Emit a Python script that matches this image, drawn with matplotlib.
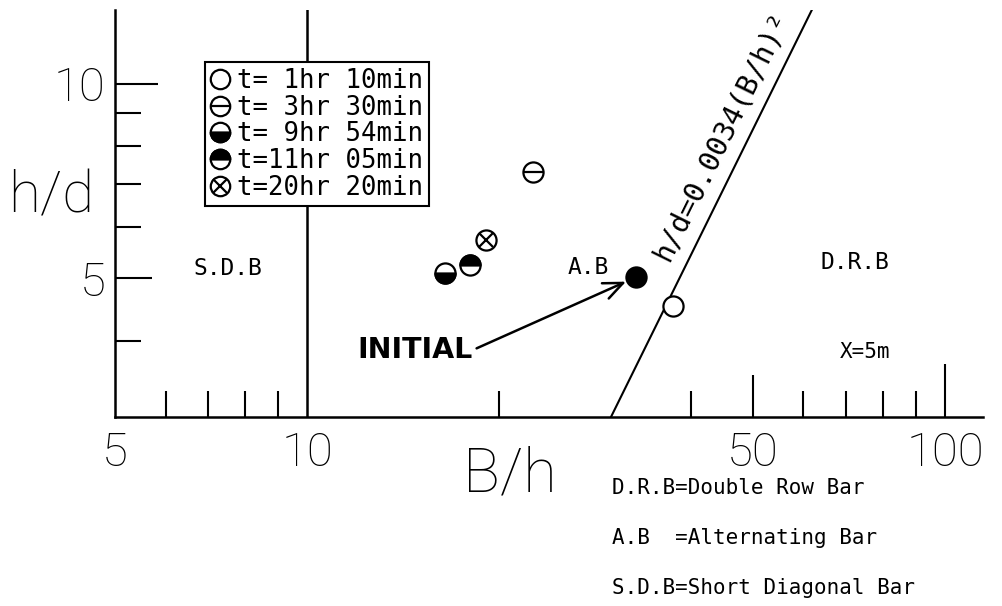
import numpy as np
import matplotlib
matplotlib.use("Agg")
import matplotlib.pyplot as plt
from matplotlib.lines import Line2D
from matplotlib.path import Path
from matplotlib.ticker import FixedLocator, NullFormatter, FixedFormatter
from matplotlib.legend_handler import HandlerTuple

# ---------------- data ----------------
series_labels = ['t= 1hr 10min', 't= 3hr 30min', 't= 9hr 54min', 't=11hr 05min', 't=20hr 20min']
series_bh = [37.5, 22.6, 16.45, 18.0, 19.1]
series_hd = [4.53, 7.29, 5.09, 5.25, 5.72]
initial_bh = [32.8]
initial_hd = [5.02]

coef = 0.0034          # h/d = coef * (B/h)^2
sdb_ab_boundary = 10   # vertical boundary B/h

x_major = [5, 10, 50, 100]
x_major_labels = ['5', '10', '50', '100']
x_minor = [6, 7, 8, 9, 20, 40, 60, 70, 80, 90]
y_major = [5, 10]
y_major_labels = ['5', '10']
y_minor = [4, 6, 7, 8, 9]

notes = ['D.R.B=Double Row Bar', 'A.B  =Alternating Bar', 'S.D.B=Short Diagonal Bar']

# ---------------- marker shapes ----------------
def half_disk(upper):
    arc = Path.arc(0, 180) if upper else Path.arc(180, 360)
    verts = np.vstack([arc.vertices, arc.vertices[:1]])
    codes = np.concatenate([arc.codes, [Path.CLOSEPOLY]])
    return Path(verts, codes)

UPPER = half_disk(True)
LOWER = half_disk(False)

# ---------------- figure ----------------
MONO = 'DejaVu Sans Mono'
BIG = dict(family='Roboto', weight='light')

fig = plt.figure(figsize=(10.03, 6.06), dpi=100)
ax = fig.add_axes([0.11466, 0.31188, 0.86540, 0.67162])
ax.set_xscale('log')
ax.set_yscale('log')
ax.set_xlim(5, 114.7)
ax.set_ylim(3.05, 13.0)

for s in ['top', 'right']:
    ax.spines[s].set_visible(False)
for s in ['left', 'bottom']:
    ax.spines[s].set_linewidth(1.8)

# boundary line
ax.axvline(sdb_ab_boundary, color='black', lw=1.8, zorder=2)

# h/d = 0.0034 (B/h)^2
bh_line = np.geomspace(np.sqrt(3.05 / coef), np.sqrt(13.0 / coef), 50)
ax.plot(bh_line, coef * bh_line ** 2, color='black', lw=1.5, zorder=2)

MS = 14.5
MEW = 1.6
LMS = 14.0
# overlay marker for each series (drawn on top of an open white circle)
overlays = [None,
            dict(marker='_', mfc='black', scale=1.0),
            dict(marker=LOWER, mfc='black', scale=1.0),
            dict(marker=UPPER, mfc='black', scale=1.0),
            dict(marker='x', mfc='black', scale=1 / 1.414)]

handles = []
for i in range(len(series_labels)):
    ax.plot([series_bh[i]], [series_hd[i]], ls='none', marker='o', mfc='white', mec='black',
            ms=MS, mew=MEW, zorder=3)
    proxy = Line2D([], [], ls='none', marker='o', mfc='white', mec='black', ms=LMS, mew=MEW)
    ov = overlays[i]
    if ov is not None:
        ax.plot([series_bh[i]], [series_hd[i]], ls='none', marker=ov['marker'], mfc=ov['mfc'],
                mec='black', ms=MS * ov['scale'], mew=MEW, zorder=4)
        proxy_ov = Line2D([], [], ls='none', marker=ov['marker'], mfc=ov['mfc'], mec='black',
                          ms=LMS * ov['scale'], mew=MEW)
        handles.append((proxy, proxy_ov))
    else:
        handles.append(proxy)

ax.plot(initial_bh, initial_hd, 'o', ms=MS, mfc='black', mec='black', mew=MEW, zorder=3)

leg = ax.legend(handles, series_labels,
                handler_map={tuple: HandlerTuple(ndivide=1)},
                loc='upper left', bbox_to_anchor=(0.1037, 0.872), borderaxespad=0,
                prop={'family': MONO, 'size': 18.5}, handlelength=0.7, handletextpad=0.33,
                labelspacing=0.03, borderpad=0.22, fancybox=False, framealpha=1,
                edgecolor='black', numpoints=1)
leg.get_frame().set_linewidth(1.5)
leg.set_zorder(6)

# ---------------- ticks ----------------
ax.xaxis.set_major_locator(FixedLocator(x_major))
ax.xaxis.set_major_formatter(FixedFormatter(x_major_labels))
ax.xaxis.set_minor_locator(FixedLocator(x_minor))
ax.xaxis.set_minor_formatter(NullFormatter())
ax.yaxis.set_major_locator(FixedLocator(y_major))
ax.yaxis.set_major_formatter(FixedFormatter(y_major_labels))
ax.yaxis.set_minor_locator(FixedLocator(y_minor))
ax.yaxis.set_minor_formatter(NullFormatter())

ax.tick_params(which='both', direction='in', width=1.5, color='black')
ax.tick_params(which='minor', length=18.7)
ax.tick_params(axis='x', which='major', pad=10, labelsize=34)
ax.tick_params(axis='y', which='major', pad=7, labelsize=34)
for lab in ax.get_xticklabels() + ax.get_yticklabels():
    lab.set_family(BIG['family'])
    lab.set_weight(BIG['weight'])

x_major_len = [0, 0, 30, 38]
for t, L in zip(ax.xaxis.get_major_ticks(), x_major_len):
    t.tick1line.set_markersize(L)
y_major_len = [26.6, 31]
for t, L in zip(ax.yaxis.get_major_ticks(), y_major_len):
    t.tick1line.set_markersize(L)

# axis labels
ax.set_ylabel('h/d', rotation=0, fontsize=42, ha='center', va='center', **BIG)
ax.yaxis.set_label_coords(-0.0737, 0.5405)
ax.set_xlabel('B/h', fontsize=44, ha='center', va='center', **BIG)
ax.xaxis.set_label_coords(0.455, -0.1425)

# ---------------- annotations ----------------
ax.text(7.52, 5.18, 'S.D.B', family=MONO, fontsize=16.5, ha='center', va='center')
ax.text(27.6, 5.20, 'A.B', family=MONO, fontsize=16.5, ha='center', va='center')
ax.text(72.3, 5.29, 'D.R.B', family=MONO, fontsize=16.5, ha='center', va='center')
ax.text(74.9, 3.85, 'X=5m', family=MONO, fontsize=15, ha='center', va='center')

ax.annotate('INITIAL', xy=(initial_bh[0], initial_hd[0]), xytext=(14.76, 3.87),
            fontsize=20.5, weight='bold', family='DejaVu Sans', ha='center', va='center',
            arrowprops=dict(arrowstyle='->,head_length=0.7,head_width=0.3', lw=1.8,
                            color='black', shrinkA=1, shrinkB=8, relpos=(1, 0.5),
                            mutation_scale=20))

# rotated label along the h/d line
p1 = ax.transData.transform((30, coef * 30 ** 2))
p2 = ax.transData.transform((60, coef * 60 ** 2))
ang = np.degrees(np.arctan2(p2[1] - p1[1], p2[0] - p1[0]))
ax.text(44.6, 8.3, 'h/d=0.0034(B/h)\u00b2', family=MONO, fontsize=20.5, rotation=ang,
        rotation_mode='anchor', ha='center', va='center')

# notes bottom right
for i, n in enumerate(notes):
    fig.text(0.610, 0.1947 - i * 0.0825, n, family=MONO, fontsize=15, ha='left', va='center')

fig.savefig('out.png', dpi=100)
